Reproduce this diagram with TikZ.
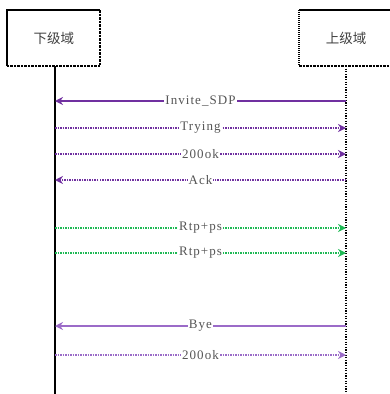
\documentclass[tikz,border=0pt]{standalone}
\usepackage{fontspec}
\setmainfont{Liberation Serif}
\newfontfamily\lblfont[LetterSpace=8]{Liberation Serif}
\newfontfamily\cjk{Noto Sans CJK SC}
\usetikzlibrary{arrows.meta}
\definecolor{vio}{HTML}{7030A0}
\definecolor{lvio}{HTML}{9B6BC8}
\definecolor{grn}{HTML}{1DB954}
\definecolor{txt}{HTML}{555555}
\begin{document}
\begin{tikzpicture}[x=1pt,y=-1pt,
  msg/.style={line width=1.5pt,-{Stealth[length=8pt,width=8pt]}},
  lbl/.style={fill=white,inner sep=1pt,text=txt,font=\lblfont\fontsize{13}{14}\selectfont},
  boxtxt/.style={text=black!75,font=\cjk\fontsize{13.5}{15}\selectfont}]
\useasboundingbox (0,0) rectangle (390,394);
% left box
\draw[line width=1.2pt] (7,66) -- (7,10) -- (100,10);
\draw[line width=1.2pt,dash pattern=on 2.5pt off 1pt] (100,10) -- (100,66) -- (7,66);
\node[boxtxt] (lb) at (54,38) {下级域};
% right box
\draw[line width=1.2pt] (299,10) -- (392,10);
\draw[line width=1.2pt,dash pattern=on 1pt off 1pt] (299,10) -- (299,66);
\draw[line width=1.2pt,dash pattern=on 2.5pt off 1pt] (299,66) -- (392,66);
\node[boxtxt] (rb) at (346,38) {上级域};
% lifelines
\coordinate (lt) at (55,66); \coordinate (lbt) at (55,394);
\coordinate (rt) at (346,66); \coordinate (rbt) at (346,394);
\draw[line width=1.5pt] (lt) -- (lbt);
\draw[line width=2pt,dash pattern=on 1.2pt off 1.4pt] (rt) -- (rbt);
% messages
\foreach \y/\n in {101/a,128/b,154/c,180/d,228/e,253/f,326/g,355/h}{
  \coordinate (l\n) at (55,\y); \coordinate (r\n) at (346,\y);}
\draw[msg,vio] (ra) -- node[lbl]{Invite\_SDP} (la);
\draw[msg,vio,densely dotted] (lb) -- node[lbl]{Trying} (rb);
\draw[msg,vio,densely dotted] (lc) -- node[lbl]{200ok} (rc);
\draw[msg,vio,densely dotted] (rd) -- node[lbl]{Ack} (ld);
\draw[msg,grn,densely dotted] (le) -- node[lbl]{Rtp+ps} (re);
\draw[msg,grn,densely dotted] (lf) -- node[lbl]{Rtp+ps} (rf);
\draw[msg,lvio] (rg) -- node[lbl]{Bye} (lg);
\draw[msg,lvio,densely dotted] (lh) -- node[lbl]{200ok} (rh);
\end{tikzpicture}
\end{document}
